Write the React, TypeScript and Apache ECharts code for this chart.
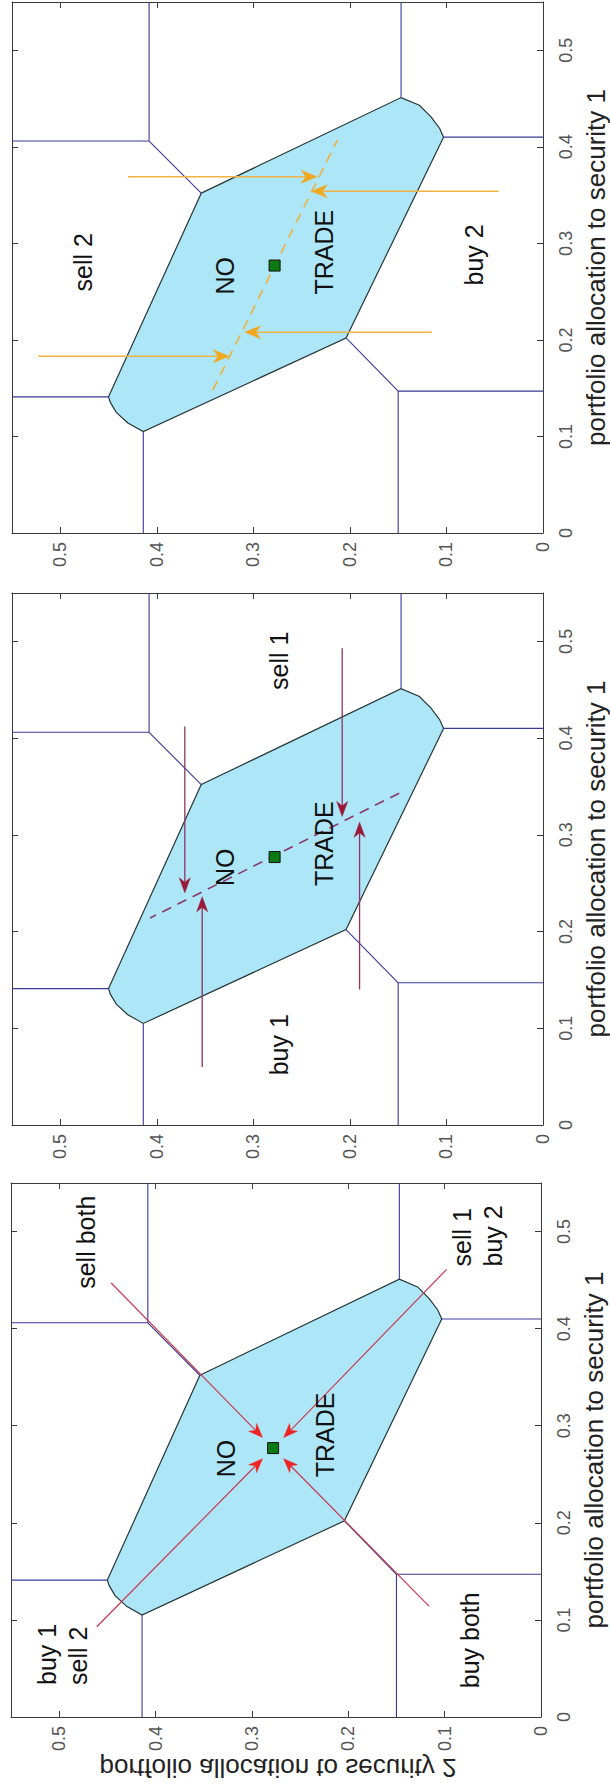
import React, { useEffect, useRef } from "react";
import * as echarts from "echarts";

// ---------- data (original orientation: sec1 = allocation to security 1, sec2 = allocation to security 2) ----------
const axisMin = 0;
const axisMax = 0.55;
const tickStep = 0.1;

const xTitle = "portfolio allocation to security 1";
const yTitle = "portfolio allocation to security 2";

// no-trade region vertices
const regionSec1 = [0.352, 0.451, 0.443, 0.431, 0.419, 0.41, 0.202, 0.105, 0.114, 0.125, 0.135, 0.141];
const regionSec2 = [0.354, 0.147, 0.128, 0.116, 0.107, 0.103, 0.204, 0.414, 0.43, 0.442, 0.448, 0.45];

// target portfolio
const targetSec1 = 0.277;
const targetSec2 = 0.278;

// trade-region boundaries, each a polyline of [sec1, sec2]
const boundaries = [
  [[0.406, 0.55], [0.406, 0.408], [0.55, 0.408]],
  [[0.406, 0.408], [0.352, 0.354]],
  [[0.451, 0.147], [0.55, 0.147]],
  [[0.41, 0.103], [0.41, 0]],
  [[0.147, 0], [0.147, 0.15], [0, 0.15]],
  [[0.147, 0.15], [0.202, 0.204]],
  [[0.105, 0.414], [0, 0.414]],
  [[0.141, 0.45], [0.141, 0.55]],
];

// dashed target lines [sec1, sec2]
const orangeDash = [[0.148, 0.342], [0.407, 0.213]];
const maroonDash = [[0.343, 0.149], [0.214, 0.407]];

// arrows: [startSec1, startSec2, endSec1, endSec2]
const orangeArrows = [
  [0.369, 0.43, 0.369, 0.234],
  [0.354, 0.046, 0.354, 0.24],
  [0.183, 0.523, 0.183, 0.325],
  [0.208, 0.115, 0.208, 0.309],
];
const maroonArrows = [
  [0.412, 0.371, 0.24, 0.371],
  [0.06, 0.353, 0.236, 0.353],
  [0.493, 0.208, 0.319, 0.208],
  [0.14, 0.19, 0.313, 0.19],
];
const redArrows = [
  [0.447, 0.446, 0.288, 0.289],
  [0.461, 0.098, 0.288, 0.267],
  [0.093, 0.461, 0.266, 0.289],
  [0.114, 0.116, 0.266, 0.267],
];

// region labels: [text, sec1, sec2, align]
const topTexts = [
  ["sell 2", 0.2805, 0.476, "center"],
  ["NO", 0.247, 0.329, "left"],
  ["TRADE", 0.247, 0.2266, "left"],
  ["buy 2", 0.288, 0.0716, "center"],
];
const middleTexts = [
  ["sell 1", 0.48, 0.273, "center"],
  ["NO", 0.247, 0.329, "left"],
  ["TRADE", 0.247, 0.2266, "left"],
  ["buy 1", 0.083, 0.273, "center"],
];
const bottomTexts = [
  ["sell both", 0.489, 0.472, "center"],
  ["sell 1\nbuy 2", 0.464, 0.0656, "left"],
  ["NO", 0.247, 0.327, "left"],
  ["TRADE", 0.247, 0.2245, "left"],
  ["buy 1\nsell 2", 0.033, 0.497, "left"],
  ["buy both", 0.079, 0.0736, "center"],
];

// ---------- styling / layout ----------
const FONT = "'Liberation Sans', Arial, Helvetica, sans-serif";
const FILL = "#ADE6F7";
const EDGE = "#263636";
const BLUE = "#3a3a96";
const AXIS = "#3a3a3a";

const panels = [
  { left: 12, top: 2, width: 531, height: 531 },
  { left: 12, top: 593, width: 531, height: 532 },
  { left: 11, top: 1183, width: 530, height: 534 },
];

const panelDefs = [
  { dash: orangeDash, dashColor: "#efb13c", arrows: orangeArrows, shaft: "#f0b446", head: "#f0a822", lw: 1.5, L: 16, W: 13, texts: topTexts },
  { dash: maroonDash, dashColor: "#8a3a68", arrows: maroonArrows, shaft: "#8e3464", head: "#9a1838", lw: 1.3, L: 15, W: 11, texts: middleTexts },
  { dash: null, dashColor: "", arrows: redArrows, shaft: "#c83a52", head: "#f02222", lw: 1.2, L: 14, W: 11, texts: bottomTexts },
];

function arrowElement(p0: number[], p1: number[], shaft: string, head: string, lw: number, L: number, W: number) {
  const dx = p1[0] - p0[0];
  const dy = p1[1] - p0[1];
  const len = Math.hypot(dx, dy) || 1;
  const ux = dx / len;
  const uy = dy / len;
  const nx = -uy;
  const ny = ux;
  const bx = p1[0] - ux * L;
  const by = p1[1] - uy * L;
  const notch = [p1[0] - ux * L * 0.7, p1[1] - uy * L * 0.7];
  return {
    type: "group",
    children: [
      {
        type: "line",
        shape: { x1: p0[0], y1: p0[1], x2: notch[0], y2: notch[1] },
        style: { stroke: shaft, lineWidth: lw },
      },
      {
        type: "polygon",
        shape: {
          points: [
            [p1[0], p1[1]],
            [bx + (nx * W) / 2, by + (ny * W) / 2],
            notch,
            [bx - (nx * W) / 2, by - (ny * W) / 2],
          ],
        },
        style: { fill: head, stroke: head, lineWidth: 0.5 },
      },
    ],
  };
}

function buildOption() {
  const grid: any[] = [];
  const xAxis: any[] = [];
  const yAxis: any[] = [];
  const series: any[] = [];

  panels.forEach((p, i) => {
    grid.push({ ...p, containLabel: false, outerBoundsMode: "none" });
    const common = {
      type: "value",
      gridIndex: i,
      min: axisMin,
      max: axisMax,
      interval: tickStep,
      splitLine: { show: false },
      axisLine: { show: true, onZero: false, lineStyle: { color: AXIS, width: 1 } },
      axisTick: { show: true, inside: true, length: 6, lineStyle: { color: AXIS } },
    };
    const labelStyle = { fontSize: 18, color: "#555", fontFamily: FONT, showMaxLabel: false, rotate: 90 };
    xAxis.push({ ...common, position: "bottom", inverse: true, axisLabel: { ...labelStyle, margin: 9 } });
    xAxis.push({ ...common, position: "top", inverse: true, axisLabel: { show: false } });
    yAxis.push({
      ...common,
      position: "right",
      axisLabel: { ...labelStyle, margin: 14 },
      name: xTitle,
      nameLocation: "middle",
      nameRotate: 90,
      nameGap: 38,
      nameTextStyle: { fontSize: 26, color: "#222", fontFamily: FONT },
    });
    yAxis.push({ ...common, position: "left", axisLabel: { show: false } });

    const ax = { xAxisIndex: 2 * i, yAxisIndex: 2 * i, silent: true, animation: false };
    const def = panelDefs[i];

    // no-trade region
    series.push({
      ...ax,
      type: "custom",
      z: 1,
      data: [[targetSec2, targetSec1]],
      renderItem: (_params: any, api: any) => ({
        type: "polygon",
        shape: { points: regionSec1.map((s1, k) => api.coord([regionSec2[k], s1])) },
        style: { fill: FILL, stroke: EDGE, lineWidth: 1.2 },
      }),
    });

    // boundaries
    series.push({
      ...ax,
      type: "custom",
      z: 2,
      data: boundaries.map((b) => [b[0][1], b[0][0]]),
      renderItem: (params: any, api: any) => {
        const b = boundaries[params.dataIndex];
        return {
          type: "polyline",
          shape: { points: b.map((pt) => api.coord([pt[1], pt[0]])) },
          style: { stroke: BLUE, lineWidth: 1.1, fill: "none" },
        };
      },
    });

    // dashed line
    if (def.dash) {
      const d = def.dash;
      series.push({
        ...ax,
        type: "custom",
        z: 3,
        data: [[d[0][1], d[0][0]]],
        renderItem: (_params: any, api: any) => ({
          type: "polyline",
          shape: { points: d.map((pt) => api.coord([pt[1], pt[0]])) },
          style: { stroke: def.dashColor, lineWidth: 1.6, lineDash: [10, 7], fill: "none" },
        }),
      });
    }

    // arrows
    series.push({
      ...ax,
      type: "custom",
      z: 4,
      data: def.arrows.map((a) => [a[1], a[0]]),
      renderItem: (params: any, api: any) => {
        const a = def.arrows[params.dataIndex];
        const p0 = api.coord([a[1], a[0]]);
        const p1 = api.coord([a[3], a[2]]);
        return arrowElement(p0, p1, def.shaft, def.head, def.lw, def.L, def.W);
      },
    });

    // target
    series.push({
      ...ax,
      type: "scatter",
      z: 5,
      symbol: "rect",
      symbolSize: 11,
      data: [[targetSec2, targetSec1]],
      itemStyle: { color: "#0b7a12", borderColor: "#101010", borderWidth: 1, opacity: 1 },
    });

    // region labels
    series.push({
      ...ax,
      type: "custom",
      z: 6,
      data: def.texts.map((t) => [t[2], t[1]]),
      renderItem: (params: any, api: any) => {
        const t = def.texts[params.dataIndex];
        const pt = api.coord([t[2] as number, t[1] as number]);
        return {
          type: "text",
          x: pt[0],
          y: pt[1],
          rotation: Math.PI / 2,
          style: {
            text: t[0],
            fill: "#111",
            fontSize: 25,
            fontFamily: FONT,
            lineHeight: 31,
            align: t[3],
            textAlign: t[3],
            verticalAlign: "middle",
            textVerticalAlign: "middle",
          },
        };
      },
    });
  });

  return {
    animation: false,
    backgroundColor: "#ffffff",
    grid,
    xAxis,
    yAxis,
    series,
    graphic: [
      {
        type: "text",
        x: 278,
        y: 1768,
        scaleY: -1,
        silent: true,
        style: {
          text: yTitle,
          fill: "#222",
          fontSize: 26,
          fontFamily: FONT,
          align: "center",
          textAlign: "center",
          verticalAlign: "middle",
          textVerticalAlign: "middle",
        },
      },
    ],
  };
}

export default function App() {
  const ref = useRef<HTMLDivElement>(null);
  useEffect(() => {
    if (!ref.current) return;
    const chart = echarts.init(ref.current, undefined, { renderer: "svg" });
    chart.setOption(buildOption() as any);
    return () => chart.dispose();
  }, []);
  return (
    <div
      ref={ref}
      style={{ position: "absolute", left: 0, top: 0, width: 610, height: 1789, background: "#fff" }}
    />
  );
}
